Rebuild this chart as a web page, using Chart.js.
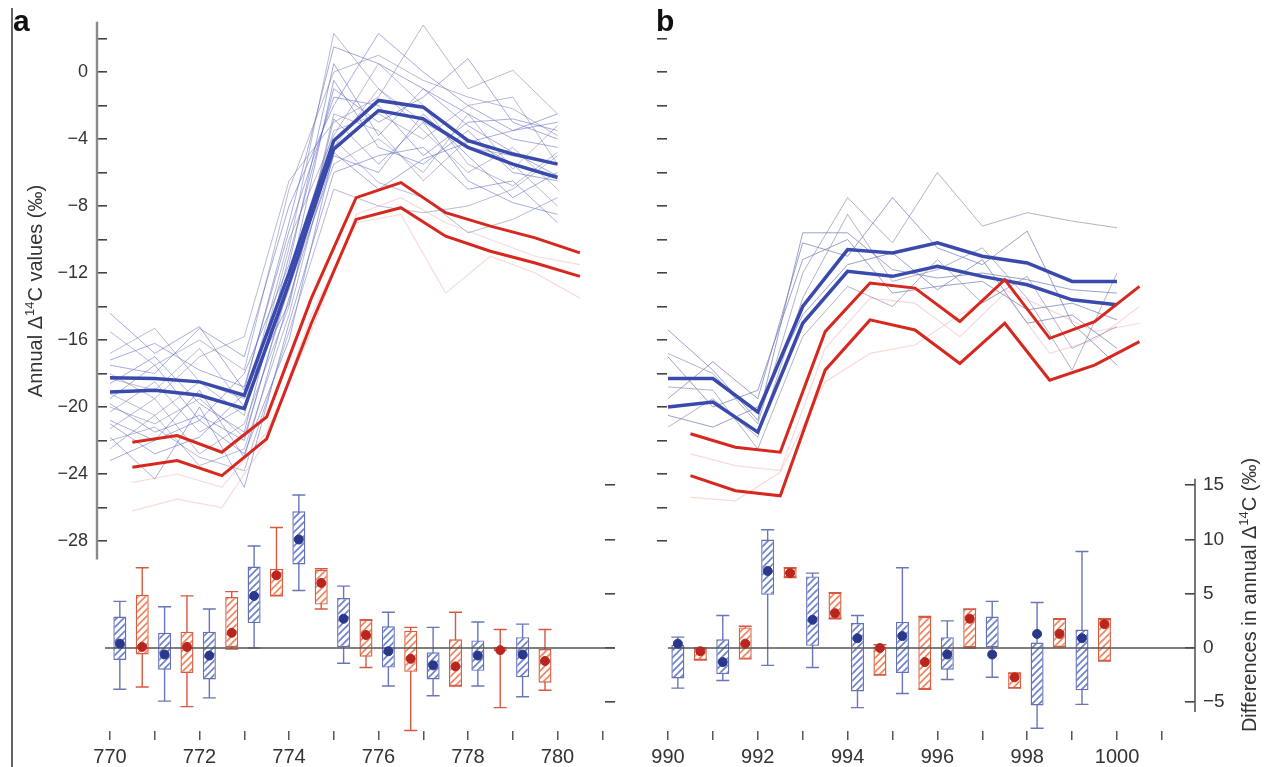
<!DOCTYPE html>
<html>
<head>
<meta charset="utf-8">
<script src="https://cdn.jsdelivr.net/npm/chart.js@4.4.1/dist/chart.umd.min.js"></script>
<style>
html, body { margin: 0; padding: 0; background: #fff; }
#wrap { position: relative; width: 1265px; height: 767px; overflow: hidden; }
#wrap canvas { position: absolute; left: 0; top: 0; }
</style>
</head>
<body>
<div id="wrap">
  <canvas id="chartA" width="1265" height="767"></canvas>
  <canvas id="chartB" width="1265" height="767"></canvas>
</div>
<script>
// ---- data ----
const yearsA = [770, 771, 772, 773, 774, 775, 776, 777, 778, 779, 780];
const yearsB = [990, 991, 992, 993, 994, 995, 996, 997, 998, 999, 1000];

const xTicksA = [770, 771, 772, 773, 774, 775, 776, 777, 778, 779, 780, 781];
const xTicksB = [990, 991, 992, 993, 994, 995, 996, 997, 998, 999, 1000, 1001];
const yTicks = [2, 0, -2, -4, -6, -8, -10, -12, -14, -16, -18, -20, -22, -24, -26, -28];
const diffTicks = [15, 10, 5, 0, -5];

// thick blue / red lines (red ones sit half a year later)
const blueA1 = [-18.25, -18.3, -18.5, -19.3, -12.0, -4.1, -1.7, -2.1, -4.1, -4.9, -5.5];
const blueA2 = [-19.1, -19.0, -19.3, -20.1, -12.6, -4.6, -2.3, -2.8, -4.5, -5.5, -6.3];
const redA1 = [-22.1, -21.7, -22.7, -20.6, -13.5, -7.5, -6.6, -8.4, -9.2, -9.9, -10.8];
const redA2 = [-23.6, -23.2, -24.1, -21.9, -15.0, -8.8, -8.1, -9.8, -10.7, -11.4, -12.2];

const blueB1 = [-18.3, -18.3, -20.3, -14.0, -10.6, -10.8, -10.2, -11.0, -11.4, -12.5, -12.5];
const blueB2 = [-20.0, -19.7, -21.5, -15.0, -11.9, -12.2, -11.6, -12.2, -12.7, -13.6, -13.9];
const redB1 = [-21.6, -22.4, -22.7, -15.5, -12.6, -12.9, -14.9, -12.4, -15.9, -14.9, -12.8];
const redB2 = [-24.1, -25.0, -25.3, -17.8, -14.8, -15.4, -17.4, -15.0, -18.4, -17.5, -16.1];

// individual tree series
const thinA = [
  [-14.4, -16.8, -15.2, -19.0, -9.0, 1.5, 0.5, -1.0, -2.5, -4.0, -4.5],
  [-16.8, -15.3, -18.5, -20.5, -10.5, 2.3, -1.0, -3.0, -4.5, -5.0, -5.5],
  [-17.5, -18.0, -15.3, -17.0, -8.0, -2.0, 2.3, 0.0, -2.0, -3.5, -3.0],
  [-18.0, -19.5, -17.0, -15.8, -6.5, -3.0, -1.5, 2.8, -1.0, 0.1, -2.5],
  [-18.6, -17.0, -19.8, -21.5, -11.0, -1.0, -3.0, -1.5, 0.8, -3.0, -4.0],
  [-19.2, -20.5, -18.5, -19.5, -12.0, -3.5, -2.5, -4.0, -2.0, -1.5, -5.5],
  [-19.8, -21.5, -20.5, -22.0, -12.5, -0.5, -4.5, -5.5, -3.5, -6.0, -6.5],
  [-20.3, -18.5, -21.5, -20.0, -13.0, -4.5, -1.0, -3.5, -6.0, -4.5, -7.0],
  [-20.8, -22.0, -19.0, -23.0, -13.5, -5.0, -6.0, -2.5, -5.0, -7.5, -6.0],
  [-21.3, -19.5, -22.8, -21.0, -14.0, -2.5, -3.5, -6.5, -4.0, -5.5, -8.0],
  [-21.8, -24.3, -20.0, -24.8, -15.0, -6.0, -5.0, -4.5, -7.0, -6.5, -9.0],
  [-22.5, -20.5, -23.5, -22.5, -14.5, -4.0, -6.6, -7.5, -9.6, -8.8, -7.5],
  [-17.2, -16.2, -17.8, -18.8, -9.5, -1.5, -2.0, -5.0, -3.0, -2.8, -3.5],
  [-18.3, -19.0, -16.5, -20.0, -10.0, -3.8, 0.5, -2.0, -5.5, -6.8, -4.8],
  [-19.5, -17.5, -20.8, -18.0, -11.5, 0.5, -3.8, -1.0, -3.2, -4.8, -6.2],
  [-20.0, -21.0, -19.5, -21.8, -12.8, -5.5, -4.0, -6.0, -2.5, -5.8, -3.2],
  [-21.0, -22.8, -21.8, -19.2, -13.8, -2.8, -5.5, -3.0, -6.5, -7.8, -8.5],
  [-22.0, -21.2, -23.0, -23.8, -15.5, -7.0, -8.0, -8.4, -8.0, -7.0, -5.0],
  [-23.2, -22.0, -20.8, -22.8, -16.0, -4.8, -7.0, -5.2, -4.2, -3.5, -2.5],
  [-15.5, -17.5, -16.0, -17.8, -7.0, 0.0, 1.0, -0.5, -1.5, -2.2, -3.8]
];
const faintA = [
  [-26.2, -25.5, -26.0, -22.0, -14.5, -9.0, -8.5, -13.2, -11.0, -12.0, -13.5],
  [-24.5, -24.0, -24.8, -21.5, -15.5, -8.5, -7.5, -9.0, -10.0, -11.0, -11.5]
];
const thinB = [
  [-15.4, -17.8, -20.8, -9.6, -9.6, -11.8, -12.3, -12.0, -12.4, -13.0, -13.2],
  [-16.8, -18.0, -21.0, -12.0, -7.5, -10.2, -6.0, -9.2, -8.4, -8.9, -9.3],
  [-19.5, -17.3, -19.5, -10.2, -11.0, -7.5, -10.5, -11.5, -9.5, -15.0, -17.5],
  [-21.2, -19.5, -21.8, -13.5, -8.5, -12.5, -11.8, -10.5, -13.5, -17.8, -12.0],
  [-20.5, -21.2, -20.0, -14.5, -11.5, -10.8, -13.0, -11.2, -15.0, -14.5, -16.5],
  [-18.8, -19.0, -22.5, -15.8, -12.8, -14.0, -11.2, -13.8, -12.2, -16.5, -15.2],
  [-17.0, -20.0, -19.0, -11.2, -10.0, -13.2, -12.8, -12.5, -14.2, -13.8, -14.8]
];
const faintB = [
  [-25.4, -25.6, -23.9, -18.5, -16.8, -16.3, -14.5, -13.0, -14.2, -15.5, -15.0],
  [-22.8, -23.5, -23.8, -16.5, -13.5, -13.8, -15.8, -13.2, -16.8, -16.0, -14.0]
];

// box plots of differences: [low whisker, q1, q3, high whisker, mean]
const boxBlueA = [
  [-3.8, -1.1, 2.9, 4.3, 0.4],
  [-4.9, -2.0, 1.4, 3.8, -0.6],
  [-4.6, -2.9, 1.5, 3.6, -0.7],
  [0.0, 2.3, 7.5, 9.4, 4.8],
  [5.3, 7.7, 12.6, 14.1, 10.0],
  [-1.4, 0.0, 4.6, 5.7, 2.7],
  [-3.5, -1.8, 2.0, 3.3, -0.3],
  [-4.4, -2.9, -0.4, 1.9, -1.6],
  [-3.5, -2.1, 0.7, 2.4, -0.7],
  [-4.5, -2.7, 1.0, 2.2, -0.6]
];
const boxRedA = [
  [-3.6, -0.6, 4.9, 7.4, 0.1],
  [-5.4, -2.3, 1.5, 4.8, 0.1],
  [-0.1, 0.0, 4.7, 5.2, 1.4],
  [4.8, 4.8, 7.3, 11.1, 6.7],
  [3.6, 4.0, 7.2, 7.3, 6.0],
  [-1.8, -0.8, 2.6, 2.6, 1.2],
  [-7.6, -2.2, 1.6, 1.9, -1.0],
  [-3.5, -3.5, 0.8, 3.3, -1.7],
  [-5.5, -0.3, 0.1, 1.7, -0.2],
  [-3.9, -3.2, -0.1, 1.7, -1.2]
];
const boxBlueB = [
  [-3.7, -2.8, 0.3, 1.0, 0.4],
  [-3.0, -2.4, 0.8, 3.0, -1.3],
  [-1.6, 4.9, 10.0, 10.9, 7.1],
  [-1.8, 0.2, 6.6, 6.9, 2.6],
  [-5.5, -4.0, 2.3, 3.0, 0.9],
  [-4.2, -2.3, 2.4, 7.4, 1.1],
  [-2.9, -2.0, 1.0, 2.5, -0.6],
  [-2.7, 0.0, 2.9, 4.3, -0.6],
  [-7.4, -5.3, 0.5, 4.2, 1.3],
  [-5.2, -3.9, 1.7, 8.9, 0.9]
];
const boxRedB = [
  [-1.1, -1.1, 0.0, 0.0, -0.3],
  [-1.0, -1.0, 1.9, 2.0, 0.4],
  [6.5, 6.5, 7.4, 7.4, 6.9],
  [2.7, 2.7, 5.1, 5.1, 3.2],
  [-2.5, -2.5, 0.1, 0.3, 0.0],
  [-3.8, -3.8, 2.9, 2.9, -1.3],
  [0.0, 0.0, 3.6, 3.6, 2.7],
  [-3.7, -3.7, -2.3, -2.3, -2.7],
  [0.1, 0.1, 2.7, 2.7, 1.3],
  [-1.2, -1.2, 2.7, 2.7, 2.2]
];

// ---- styling / helpers ----
const FONT = '"Liberation Sans", Arial, Helvetica, sans-serif';
Chart.defaults.font.family = FONT;

function hatch(canvasId, stripe) {
  const c = document.createElement('canvas');
  c.width = c.height = 7;
  const g = c.getContext('2d');
  g.fillStyle = '#fff';
  g.fillRect(0, 0, 7, 7);
  g.strokeStyle = stripe;
  g.lineWidth = 1.7;
  g.beginPath();
  g.moveTo(-1, 8); g.lineTo(8, -1);
  g.moveTo(-1, 1); g.lineTo(1, -1);
  g.moveTo(6, 8); g.lineTo(8, 6);
  g.stroke();
  return document.getElementById(canvasId).getContext('2d').createPattern(c, 'repeat');
}

function lineSet(xs, ys, off, color, width, order) {
  return {
    type: 'line', yAxisID: 'y', order,
    data: xs.map((x, i) => ({ x: x + off, y: ys[i] })),
    borderColor: color, borderWidth: width, pointRadius: 0, tension: 0, fill: false
  };
}

function boxSet(xs, rows, off, fill, edge, whisker, order, label) {
  return {
    type: 'bar', yAxisID: 'y2', order, label,
    data: rows.map((r, i) => ({ x: xs[i] + off, y: [r[1], r[2]] })),
    rows, whisker,
    backgroundColor: fill, borderColor: edge, borderWidth: 1.4, borderSkipped: false,
    grouped: false, maxBarThickness: 13
  };
}

function meanSet(xs, rows, off, color) {
  return {
    type: 'scatter', yAxisID: 'y2', order: 0,
    data: rows.map((r, i) => ({ x: xs[i] + off, y: r[4] })),
    backgroundColor: color, borderColor: color, pointRadius: 4.5, showLine: false
  };
}

function drawTitle(ctx, parts, cx, cy) {
  const big = '20px ' + FONT, small = '13px ' + FONT;
  ctx.save();
  ctx.translate(cx, cy);
  ctx.rotate(-Math.PI / 2);
  let w = 0;
  parts.forEach(p => { ctx.font = p[1] ? small : big; w += ctx.measureText(p[0]).width; });
  let x = -w / 2;
  ctx.textBaseline = 'middle';
  ctx.fillStyle = '#333';
  parts.forEach(p => {
    ctx.font = p[1] ? small : big;
    ctx.fillText(p[0], x, p[1] ? -6 : 0);
    x += ctx.measureText(p[0]).width;
  });
  ctx.restore();
}

// whiskers behind the boxes
const whiskers = {
  id: 'whiskers',
  beforeDatasetsDraw(chart) {
    const { ctx, scales: { x, y2 } } = chart;
    chart.data.datasets.forEach(ds => {
      if (!ds.rows) return;
      ctx.save();
      ctx.strokeStyle = ds.whisker;
      ctx.lineWidth = 1.4;
      ds.rows.forEach((r, i) => {
        const px = x.getPixelForValue(ds.data[i].x);
        const lo = y2.getPixelForValue(r[0]);
        const hi = y2.getPixelForValue(r[3]);
        ctx.beginPath();
        ctx.moveTo(px, lo); ctx.lineTo(px, hi);
        ctx.moveTo(px - 6.5, lo); ctx.lineTo(px + 6.5, lo);
        ctx.moveTo(px - 6.5, hi); ctx.lineTo(px + 6.5, hi);
        ctx.stroke();
      });
      ctx.restore();
    });
  }
};

// zero line of the differences, drawn over the boxes
const zeroLine = {
  id: 'zeroLine',
  afterDatasetDraw(chart, args) {
    if (chart.data.datasets[args.index].label !== 'blueBox') return;
    const { ctx, chartArea, scales: { y2 } } = chart;
    const py = y2.getPixelForValue(0);
    ctx.save();
    ctx.strokeStyle = '#555';
    ctx.lineWidth = 1.6;
    ctx.beginPath();
    ctx.moveTo(chartArea.left + (chart.canvas.id === 'chartA' ? -2 : 1), py);
    ctx.lineTo(chartArea.right + 10, py);
    ctx.stroke();
    ctx.restore();
  }
};

const decorA = {
  id: 'decorA',
  afterDraw(chart) {
    const { ctx, chartArea, scales: { y } } = chart;
    ctx.save();
    // frame line at the far left
    ctx.strokeStyle = '#666';
    ctx.lineWidth = 2;
    ctx.beginPath(); ctx.moveTo(12, 8); ctx.lineTo(12, 767); ctx.stroke();
    // left value axis
    ctx.strokeStyle = '#8a8a8a';
    ctx.lineWidth = 2.4;
    const ax = chartArea.left - 10;
    ctx.beginPath(); ctx.moveTo(ax, y.getPixelForValue(3)); ctx.lineTo(ax, y.getPixelForValue(-29.1)); ctx.stroke();
    ctx.fillStyle = '#111';
    ctx.font = 'bold 30px ' + FONT;
    ctx.textBaseline = 'alphabetic';
    ctx.fillText('a', 13, 31);
    ctx.restore();
    drawTitle(ctx, [['Annual \u0394', false], ['14', true], ['C values (\u2030)', false]], 36, 291);
  }
};

const decorB = {
  id: 'decorB',
  afterDraw(chart) {
    const { ctx, chartArea, scales: { y2 } } = chart;
    ctx.save();
    ctx.strokeStyle = '#555';
    ctx.lineWidth = 1.6;
    const ax = chartArea.right + 10;
    ctx.beginPath(); ctx.moveTo(ax, y2.getPixelForValue(15.6)); ctx.lineTo(ax, y2.getPixelForValue(-5.9)); ctx.stroke();
    ctx.fillStyle = '#111';
    ctx.font = 'bold 30px ' + FONT;
    ctx.fillText('b', 656, 31);
    ctx.restore();
    drawTitle(ctx, [['Differences in annual \u0394', false], ['14', true], ['C (\u2030)', false]], 1250, 595);
  }
};

function fmt(v) { return v < 0 ? '\u2212' + Math.abs(v) : String(v); }

function buildChart(id, cfg) {
  const datasets = [];
  datasets.push(meanSet(cfg.years, cfg.boxBlue, 0.22, 'rgb(42,56,140)'));
  datasets.push(meanSet(cfg.years, cfg.boxRed, 0.72, 'rgb(185,38,32)'));
  datasets.push(boxSet(cfg.years, cfg.boxBlue, 0.22, hatch(id, 'rgb(110,130,205)'), 'rgb(100,112,185)', 'rgb(105,118,185)', 2, 'blueBox'));
  datasets.push(boxSet(cfg.years, cfg.boxRed, 0.72, hatch(id, 'rgb(238,135,95)'), 'rgb(218,92,62)', 'rgb(214,88,66)', 3, 'redBox'));
  datasets.push(lineSet(cfg.years, cfg.red1, 0.5, 'rgb(214,40,30)', 3, 4));
  datasets.push(lineSet(cfg.years, cfg.red2, 0.5, 'rgb(214,40,30)', 3, 4));
  datasets.push(lineSet(cfg.years, cfg.blue1, 0, 'rgb(58,74,172)', 3.5, 4));
  datasets.push(lineSet(cfg.years, cfg.blue2, 0, 'rgb(58,74,172)', 3.5, 4));
  cfg.thin.forEach((s, i) => {
    datasets.push(lineSet(cfg.years, s, 0, i % 2 ? cfg.thinColor2 : cfg.thinColor1, 1, 5));
  });
  cfg.faint.forEach(s => {
    datasets.push(lineSet(cfg.years, s, 0.5, 'rgba(235,150,150,0.35)', 1.2, 6));
  });

  return new Chart(document.getElementById(id), {
    type: 'line',
    data: { datasets },
    plugins: [whiskers, zeroLine, cfg.decor],
    options: {
      responsive: false,
      animation: false,
      devicePixelRatio: 1,
      layout: { padding: cfg.padding },
      plugins: { legend: { display: false }, tooltip: { enabled: false } },
      scales: {
        x: {
          type: 'linear', position: 'bottom', offset: false,
          min: cfg.xMin, max: cfg.xMax,
          afterBuildTicks: s => { s.ticks = cfg.xTicks.map(v => ({ value: v })); },
          afterFit: s => { s.height = 36; },
          grid: { drawOnChartArea: false, drawTicks: true, tickLength: 9, color: '#555', lineWidth: 1.5, offset: false },
          border: { display: false },
          ticks: {
            autoSkip: false, maxRotation: 0, padding: 5, color: '#333',
            font: { size: 20 },
            callback: v => (v % 2 === 0 ? String(v) : '')
          }
        },
        y: {
          type: 'linear', position: 'left',
          min: -39.343, max: 2.985,
          afterBuildTicks: s => { s.ticks = yTicks.map(v => ({ value: v })); },
          afterFit: s => { s.width = cfg.yWidth; },
          grid: { drawOnChartArea: false, drawTicks: true, tickLength: 10, color: '#444', lineWidth: 1.6 },
          border: { display: false },
          ticks: {
            display: cfg.yLabels, autoSkip: false, padding: 9, color: '#333',
            font: { size: 18 },
            callback: v => (v % 4 === 0 ? fmt(v) : '')
          }
        },
        y2: {
          type: 'linear', position: 'right',
          min: -7.650, max: 57.696,
          afterBuildTicks: s => { s.ticks = diffTicks.map(v => ({ value: v })); },
          afterFit: s => { s.width = cfg.y2Width; },
          grid: { drawOnChartArea: false, drawTicks: true, tickLength: 10, color: '#444', lineWidth: 1.6 },
          border: { display: false },
          ticks: {
            display: cfg.y2Labels, autoSkip: false, padding: 8, color: '#333',
            font: { size: 19 },
            callback: v => fmt(v)
          }
        }
      }
    }
  });
}

buildChart('chartA', {
  years: yearsA, xTicks: xTicksA, xMin: 769.933, xMax: 781.061,
  blue1: blueA1, blue2: blueA2, red1: redA1, red2: redA2,
  thin: thinA, faint: faintA,
  thinColor1: 'rgba(92,104,196,0.55)', thinColor2: 'rgba(125,130,175,0.55)',
  boxBlue: boxBlueA, boxRed: boxRedA,
  padding: { left: 0, right: 650, top: 22, bottom: 0 },
  yWidth: 107, y2Width: 10, yLabels: true, y2Labels: false,
  decor: decorA
});

buildChart('chartB', {
  years: yearsB, xTicks: xTicksB, xMin: 989.978, xMax: 1001.514,
  blue1: blueB1, blue2: blueB2, red1: redB1, red2: redB2,
  thin: thinB, faint: faintB,
  thinColor1: 'rgba(112,122,178,0.7)', thinColor2: 'rgba(135,138,170,0.65)',
  boxBlue: boxBlueB, boxRed: boxRedB,
  padding: { left: 657, right: 0, top: 22, bottom: 0 },
  yWidth: 10, y2Width: 80, yLabels: false, y2Labels: true,
  decor: decorB
});
</script>
</body>
</html>
